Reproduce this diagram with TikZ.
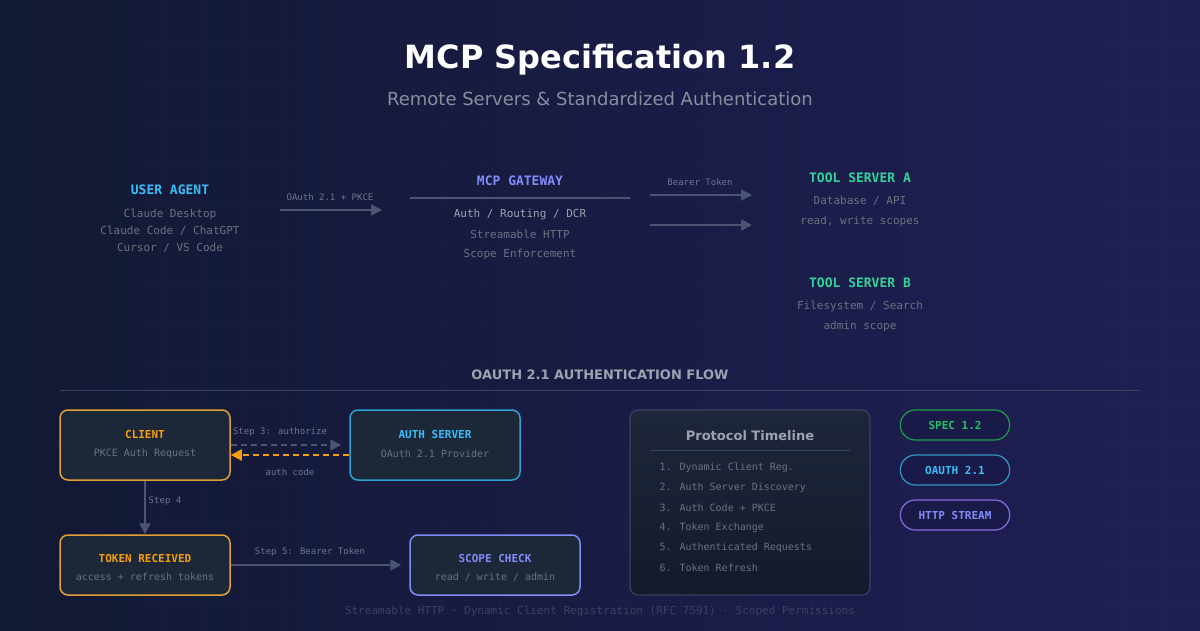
\documentclass[tikz,border=0pt]{standalone}
\usepackage{fontspec}
\setmainfont{DejaVu Sans}
\newfontfamily\monof{DejaVu Sans Mono}
\usetikzlibrary{arrows.meta,shapes.misc}
\definecolor{bgL}{HTML}{121933}
\definecolor{bgR}{HTML}{1F1F55}
\definecolor{arr}{HTML}{4B5572}
\definecolor{lbl}{HTML}{6B7590}
\definecolor{txt}{HTML}{6B7280}
\definecolor{txtl}{HTML}{9CA3AF}
\definecolor{orng}{HTML}{F59E0B}
\definecolor{orngb}{HTML}{E0A035}
\definecolor{skyb}{HTML}{38BDF8}
\definecolor{indg}{HTML}{818CF8}
\definecolor{grn}{HTML}{34D399}
\definecolor{pgrn}{HTML}{22C55E}
\definecolor{purp}{HTML}{8B6CE0}
\definecolor{boxf}{HTML}{1C2838}
\definecolor{tlt}{HTML}{1E2739}
\definecolor{tlb}{HTML}{121A2C}
\definecolor{sep}{HTML}{3A4262}
\tikzset{
  x=1pt,y=-1pt,
  ttl/.style={font=\monof\bfseries\fontsize{13}{15}\selectfont},
  sub/.style={font=\monof\fontsize{11}{13}\selectfont,text=txt},
  sml/.style={font=\monof\fontsize{9}{11}\selectfont,text=lbl},
  btitle/.style={font=\monof\bfseries\fontsize{11}{13}\selectfont},
  bsub/.style={font=\monof\fontsize{10}{12}\selectfont,text=txt},
  flowbox/.style={draw,line width=1.5pt,rounded corners=8pt,fill=boxf,minimum width=170pt},
  garrow/.style={draw=arr,line width=1.8pt,-{Triangle[length=11pt,width=11pt]}},
  pill/.style={draw,line width=1.2pt,rounded rectangle,minimum width=110pt,minimum height=30pt,fill=bgR!85!black,font=\monof\bfseries\fontsize{11}{13}\selectfont},
  item/.style={font=\monof\fontsize{10}{12}\selectfont,text=txt,anchor=west},
}
\begin{document}
\begin{tikzpicture}
\useasboundingbox (0,0) rectangle (1200,630);
\shade[left color=bgL,right color=bgR] (0,0) rectangle (1200,630);
\foreach \gx in {40,80,...,1160} \draw[white,opacity=0.012,line width=0.8pt] (\gx,0) -- (\gx,630);
\foreach \gy in {40,80,...,600} \draw[white,opacity=0.012,line width=0.8pt] (0,\gy) -- (1200,\gy);

% title
\node[font=\bfseries\fontsize{32}{36}\selectfont,text=white] (title) at (600,60) {MCP Specification 1.2};
\node[font=\fontsize{18}{21}\selectfont,text=txtl!85!bgL] (subtitle) at (600,99) {Remote Servers \& Standardized Authentication};

% user agent
\node[ttl,text=skyb] (ua) at (170,190) {USER AGENT};
\node[sub] (ua1) at (170,214) {Claude Desktop};
\node[sub] (ua2) at (170,231) {Claude Code / ChatGPT};
\node[sub] (ua3) at (170,248) {Cursor / VS Code};

\coordinate (a1s) at (280,210); \coordinate (a1e) at (382,210);
\draw[garrow] (a1s) -- (a1e);
\node[sml] (a1l) at (330,197) {OAuth 2.1 + PKCE};

% gateway
\node[ttl,text=indg] (gw) at (520,181) {MCP GATEWAY};
\coordinate (gwl1) at (410,198); \coordinate (gwl2) at (630,198);
\draw[arr,line width=1.5pt] (gwl1) -- (gwl2);
\node[sub,text=txtl] (gw1) at (520,214) {Auth / Routing / DCR};
\node[sub] (gw2) at (520,234) {Streamable HTTP};
\node[sub] (gw3) at (520,254) {Scope Enforcement};

\coordinate (a2s) at (650,195); \coordinate (a2e) at (752,195);
\draw[garrow] (a2s) -- (a2e);
\node[sml] (a2l) at (700,182) {Bearer Token};
\coordinate (a3s) at (650,225); \coordinate (a3e) at (752,225);
\draw[garrow] (a3s) -- (a3e);

% tool servers
\node[ttl,text=grn] (tsa) at (860,178) {TOOL SERVER A};
\node[sub] (tsa1) at (860,201) {Database / API};
\node[sub] (tsa2) at (860,221) {read, write scopes};
\node[ttl,text=grn] (tsb) at (860,283) {TOOL SERVER B};
\node[sub] (tsb1) at (860,306) {Filesystem / Search};
\node[sub] (tsb2) at (860,326) {admin scope};

% section header
\node[font=\bfseries\fontsize{13}{15}\selectfont,text=txtl] (hdr) at (600,375) {OAUTH 2.1 AUTHENTICATION FLOW};
\coordinate (hl1) at (60,390); \coordinate (hl2) at (1140,390);
\draw[sep,line width=1pt] (hl1) -- (hl2);

% flow boxes
\node[flowbox,draw=orngb,minimum height=70pt] (client) at (145,445) {};
\node[btitle,text=orng] (clientT) at (145,434) {CLIENT};
\node[bsub] (clientS) at (145,454) {PKCE Auth Request};

\node[flowbox,draw=skyb!85!black,minimum height=70pt] (auth) at (435,445) {};
\node[btitle,text=skyb] (authT) at (435,434) {AUTH SERVER};
\node[bsub] (authS) at (435,454) {OAuth 2.1 Provider};

\node[flowbox,draw=orngb,minimum height=60pt] (token) at (145,565) {};
\node[btitle,text=orng] (tokenT) at (145,558) {TOKEN RECEIVED};
\node[bsub] (tokenS) at (145,577) {access + refresh tokens};

\node[flowbox,draw=indg,minimum height=60pt] (scope) at (495,565) {};
\node[btitle,text=indg] (scopeT) at (495,558) {SCOPE CHECK};
\node[bsub] (scopeS) at (495,577) {read / write / admin};

% step 3
\draw[arr,line width=1.5pt,dash pattern=on 6pt off 4pt,-{Triangle[length=11pt,width=11pt]}] (client.east |- 0,445) -- ([xshift=-8pt]auth.west |- 0,445);
\node[sml] (s3) at (280,432) {Step 3: authorize};
\draw[orng,line width=2pt,dash pattern=on 6pt off 4pt,-{Triangle[length=11pt,width=11pt]}] (auth.west |- 0,455) -- (client.east |- 0,455);
\node[sml] (ac) at (290,472) {auth code};

% step 4
\draw[garrow] (client.south) -- (token.north);
\node[sml] (s4) at (165,501) {Step 4};

% step 5
\draw[garrow] (token.east) -- ([xshift=-8pt]scope.west);
\node[sml] (s5) at (310,552) {Step 5: Bearer Token};

% timeline
\shade[top color=tlt,bottom color=tlb,rounded corners=8pt] (630,410) rectangle (870,595);
\node[draw=sep,line width=1.2pt,rounded corners=8pt,minimum width=240pt,minimum height=185pt] (tl) at (750,502.5) {};
\node[font=\bfseries\fontsize{13}{15}\selectfont,text=txtl] (tlT) at (750,436) {Protocol Timeline};
\coordinate (tll1) at (650,450); \coordinate (tll2) at (850,450);
\draw[sep,line width=1pt] (tll1) -- (tll2);
\node[item] (i1) at (656,468) {1. Dynamic Client Reg.};
\node[item] (i2) at (656,488) {2. Auth Server Discovery};
\node[item] (i3) at (656,508) {3. Auth Code + PKCE};
\node[item] (i4) at (656,528) {4. Token Exchange};
\node[item] (i5) at (656,548) {5. Authenticated Requests};
\node[item] (i6) at (656,568) {6. Token Refresh};

% pills
\node[pill,minimum width=116pt,draw=pgrn!80!black,text=pgrn] (p1) at (955,425) {SPEC 1.2};
\node[pill,minimum width=116pt,draw=skyb!80!black,text=skyb] (p2) at (955,470) {OAUTH 2.1};
\node[pill,minimum width=116pt,draw=purp,text=indg] (p3) at (955,515) {HTTP STREAM};

% footer
\node[font=\monof\fontsize{11}{13}\selectfont,text=sep] (foot) at (600,611) {Streamable HTTP · Dynamic Client Registration (RFC 7591) · Scoped Permissions};
\end{tikzpicture}
\end{document}
